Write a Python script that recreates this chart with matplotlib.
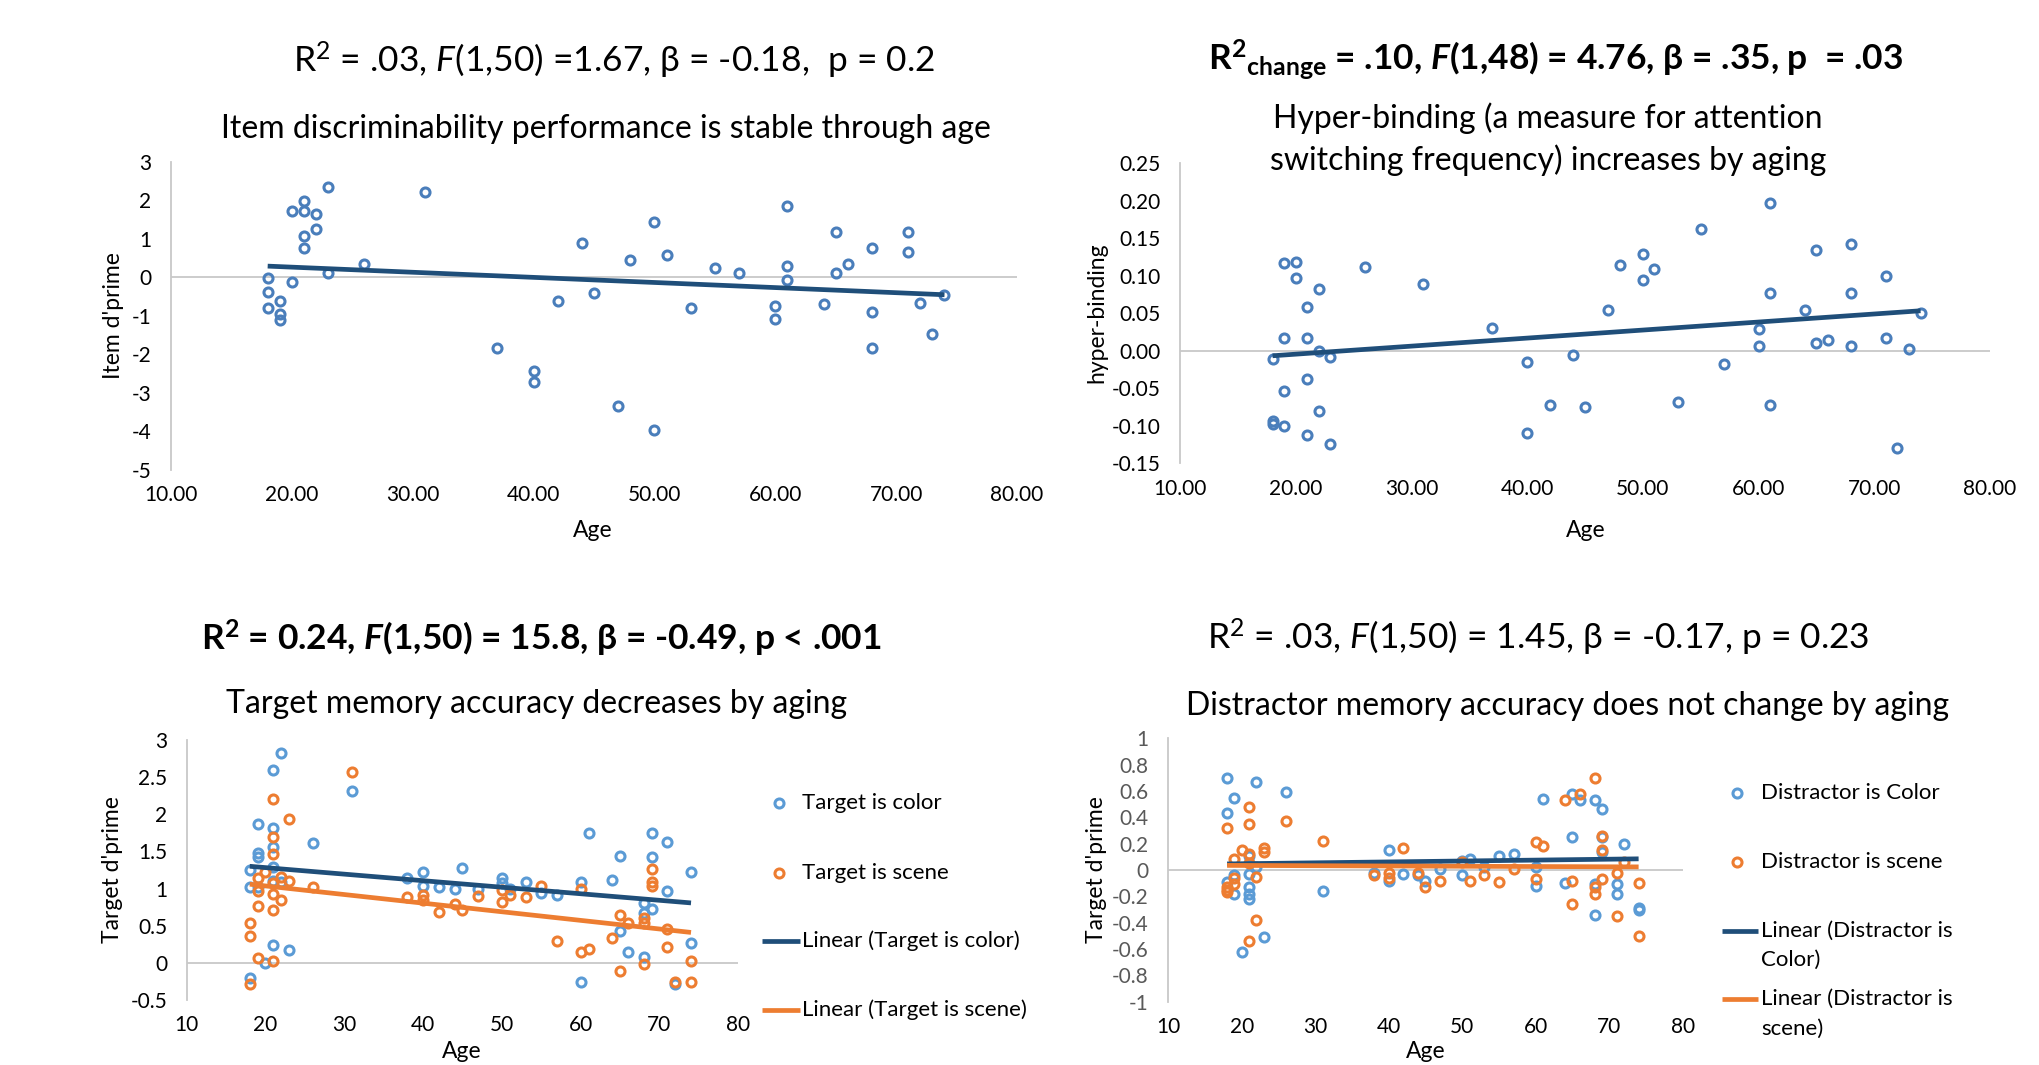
import numpy as np
import matplotlib
matplotlib.use("Agg")
import matplotlib.pyplot as plt
from matplotlib.lines import Line2D
from matplotlib.ticker import FormatStrFormatter

plt.rcParams['font.family'] = ['Lato', 'DejaVu Sans']
plt.rcParams['mathtext.fontset'] = 'custom'
plt.rcParams['mathtext.rm'] = 'Lato'
plt.rcParams['mathtext.it'] = 'Lato:italic'
plt.rcParams['mathtext.bf'] = 'Lato:bold'
plt.rcParams['mathtext.bfit'] = 'Lato:bold:italic'
plt.rcParams['axes.unicode_minus'] = False

# panel 1: item d'prime
age_item = [18, 18, 18, 19, 19, 19, 20, 20, 21, 21, 21, 21, 22, 22, 23, 23, 26, 31, 37,
            40, 40, 42, 44, 45, 47, 48, 50, 50, 51, 53, 55, 57, 60, 60, 61, 61, 61, 64,
            65, 65, 66, 68, 68, 68, 71, 71, 72, 73, 74]
item_dprime = [-0.02, -0.38, -0.79, -0.62, -0.96, -1.11, 1.71, -0.11, 1.98, 1.71, 1.07, 0.75,
               1.63, 1.26, 2.35, 0.11, 0.35, 2.22, -1.84, -2.43, -2.71, -0.62, 0.90, -0.42,
               -3.34, 0.44, 1.44, -3.97, 0.57, -0.79, 0.25, 0.11, -0.75, -1.07, 1.84, 0.29,
               -0.06, -0.70, 1.17, 0.11, 0.34, 0.75, -0.89, -1.84, 1.17, 0.66, -0.66, -1.48,
               -0.46]

# panel 2: hyper-binding
age_hb = [18, 18, 18, 19, 19, 19, 19, 20, 20, 21, 21, 21, 21, 22, 22, 22, 23, 23, 26, 31,
          37, 40, 40, 42, 44, 45, 47, 48, 50, 50, 51, 53, 55, 57, 60, 60, 61, 61, 61, 64,
          65, 65, 66, 68, 68, 68, 71, 71, 72, 73, 74]
hyper_binding = [-0.011, -0.093, -0.097, 0.117, 0.017, -0.053, -0.100, 0.119, 0.097, 0.059,
                 0.017, -0.037, -0.112, 0.082, 0.0, -0.080, -0.008, -0.124, 0.112, 0.089,
                 0.030, -0.015, -0.109, -0.072, -0.005, -0.075, 0.055, 0.115, 0.129, 0.095,
                 0.109, -0.068, 0.162, -0.018, 0.029, 0.007, 0.197, 0.077, -0.072, 0.055,
                 0.134, 0.010, 0.015, 0.142, 0.077, 0.007, 0.100, 0.017, -0.130, 0.003, 0.051]

# panel 3: target d'prime
age_tc = [18, 18, 18, 19, 19, 19, 19, 20, 21, 21, 21, 21, 21, 21, 22, 22, 23, 26, 31, 38,
          40, 40, 42, 44, 45, 47, 50, 50, 51, 53, 55, 57, 60, 60, 61, 64, 65, 65, 66, 68,
          68, 68, 69, 69, 69, 71, 71, 72, 74, 74]
target_color = [1.25, 1.02, -0.20, 1.87, 1.48, 1.43, 1.02, 0.0, 2.59, 1.82, 1.56, 1.29, 1.10,
                0.24, 2.83, 1.09, 0.17, 1.61, 2.31, 1.14, 1.22, 1.04, 1.02, 0.99, 1.28, 1.00,
                1.14, 1.07, 1.00, 1.09, 0.94, 0.92, 1.09, -0.26, 1.75, 1.12, 1.44, 0.43, 0.15,
                0.80, 0.67, 0.08, 1.75, 1.43, 0.73, 1.63, 0.97, -0.28, 1.22, 0.27]
age_ts = [18, 18, 18, 19, 19, 19, 19, 20, 21, 21, 21, 21, 21, 21, 21, 22, 22, 23, 23, 26,
          31, 38, 40, 40, 42, 44, 45, 47, 50, 50, 51, 53, 55, 57, 60, 60, 61, 64, 65, 65,
          66, 68, 68, 68, 69, 69, 69, 71, 71, 72, 74, 74]
target_scene = [0.54, 0.36, -0.28, 1.14, 0.97, 0.76, 0.07, 1.22, 2.20, 1.70, 1.47, 1.07, 0.93,
                0.71, 0.03, 1.15, 0.85, 1.93, 1.10, 1.02, 2.57, 0.88, 0.92, 0.84, 0.68, 0.79,
                0.71, 0.90, 0.98, 0.82, 0.92, 0.88, 1.04, 0.29, 1.00, 0.15, 0.19, 0.34, 0.64,
                -0.11, 0.53, 0.61, 0.53, -0.02, 1.26, 1.09, 1.04, 0.45, 0.22, -0.26, 0.03, -0.26]

# panel 4: distractor d'prime
age_dc = [18, 18, 18, 19, 19, 19, 20, 21, 21, 21, 21, 21, 22, 22, 23, 26, 31, 38, 40, 40,
          42, 44, 45, 47, 50, 50, 51, 53, 55, 57, 60, 60, 61, 64, 65, 65, 66, 68, 68, 68,
          69, 69, 69, 71, 71, 72, 74, 74]
distr_color = [0.70, 0.43, -0.09, 0.55, -0.04, -0.18, -0.62, 0.11, -0.03, -0.13, -0.18, -0.22,
               0.67, 0.02, -0.51, 0.59, -0.16, -0.02, 0.15, -0.08, -0.03, -0.04, -0.08, 0.01,
               0.07, -0.04, 0.08, 0.02, 0.11, 0.12, 0.02, -0.12, 0.54, -0.10, 0.58, 0.25, 0.53,
               0.53, -0.11, -0.34, 0.46, 0.25, 0.14, -0.11, -0.18, 0.20, -0.29, -0.30]
age_ds = [18, 18, 18, 18, 19, 19, 19, 20, 21, 21, 21, 21, 21, 22, 22, 23, 23, 26, 31, 38,
          40, 40, 42, 44, 45, 47, 50, 51, 53, 55, 57, 60, 60, 61, 64, 65, 65, 66, 68, 68,
          68, 69, 69, 69, 71, 71, 72, 74, 74]
distr_scene = [0.32, -0.13, -0.15, -0.17, 0.08, -0.06, -0.11, 0.15, 0.48, 0.35, 0.12, 0.05,
               -0.54, -0.05, -0.38, 0.17, 0.14, 0.37, 0.22, -0.04, -0.02, -0.06, 0.17, -0.02,
               -0.13, -0.08, 0.06, -0.08, -0.04, -0.09, 0.01, 0.21, -0.07, 0.18, 0.53, -0.08,
               -0.26, 0.58, 0.70, -0.13, -0.18, 0.26, 0.15, -0.07, -0.02, -0.35, 0.06, -0.10,
               -0.50]

ticks_age_top = [10, 20, 30, 40, 50, 60, 70, 80]
ticks_item = [-5, -4, -3, -2, -1, 0, 1, 2, 3]
ticks_hb = [-0.15, -0.10, -0.05, 0.0, 0.05, 0.10, 0.15, 0.20, 0.25]
ticks_target = [-0.5, 0, 0.5, 1, 1.5, 2, 2.5, 3]
ticks_distr = [-1, -0.8, -0.6, -0.4, -0.2, 0, 0.2, 0.4, 0.6, 0.8, 1]

BLUE_TOP = '#4A7EBB'
BLUE = '#5B9BD5'
ORANGE = '#ED7D31'
DARK = '#1F4E79'
GRID = '#C8C8C8'

W, H = 2040, 1065


def box(l, t, r, b):
    return [l / W, 1 - b / H, (r - l) / W, (b - t) / H]


def ftext(x, y, s, **kw):
    fig.text(x / W, 1 - y / H, s, ha=kw.pop('ha', 'center'), va=kw.pop('va', 'center'), **kw)


def style(ax, ylim, xticks, yticks, xfmt, yfmt, ycolor='black'):
    ax.set_xlim(10, 80)
    ax.set_ylim(*ylim)
    ax.set_xticks(xticks)
    ax.set_yticks(yticks)
    ax.xaxis.set_major_formatter(FormatStrFormatter(xfmt))
    ax.yaxis.set_major_formatter(FormatStrFormatter(yfmt))
    for s in ['top', 'right', 'bottom']:
        ax.spines[s].set_visible(False)
    ax.spines['left'].set_color(GRID)
    ax.spines['left'].set_linewidth(1.3)
    ax.axhline(0, color=GRID, lw=1.3, zorder=1)
    ax.tick_params(length=0, labelsize=15)
    ax.tick_params(axis='x', pad=11)
    ax.tick_params(axis='y', pad=14, labelcolor=ycolor)


def scatter_fit(ax, x, y, mcolor, lcolor):
    ax.plot(x, y, 'o', ms=6.5, mfc='none', mec=mcolor, mew=2.2, ls='none', zorder=3)
    c = np.polyfit(x, y, 1)
    xs = np.array([min(x), max(x)])
    ax.plot(xs, np.polyval(c, xs), color=lcolor, lw=3.4, solid_capstyle='butt', zorder=4)


fig = plt.figure(figsize=(20.4, 10.65), dpi=100)

# top-left
ax1 = fig.add_axes(box(171, 161.7, 1017, 470))
style(ax1, (-5, 3), ticks_age_top, ticks_item, '%.2f', '%d')
scatter_fit(ax1, age_item, item_dprime, BLUE_TOP, DARK)

# top-right
ax2 = fig.add_axes(box(1180, 163.3, 1990, 463.3))
style(ax2, (-0.15, 0.25), ticks_age_top, ticks_hb, '%.2f', '%.2f')
scatter_fit(ax2, age_hb, hyper_binding, BLUE_TOP, DARK)

# bottom-left
ax3 = fig.add_axes(box(186.7, 740, 738.3, 1000))
style(ax3, (-0.5, 3), ticks_age_top, ticks_target, '%g', '%g')
scatter_fit(ax3, age_tc, target_color, BLUE, DARK)
scatter_fit(ax3, age_ts, target_scene, ORANGE, ORANGE)

# bottom-right
ax4 = fig.add_axes(box(1168.3, 738.3, 1682.7, 1001.7))
style(ax4, (-1, 1), ticks_age_top, ticks_distr, '%g', '%g', ycolor='#595959')
scatter_fit(ax4, age_dc, distr_color, BLUE, DARK)
scatter_fit(ax4, age_ds, distr_scene, ORANGE, ORANGE)

# titles
TS, SS = 25.5, 23
ftext(614, 60, r"R$^2$ = .03, $\mathit{F}$(1,50) =1.67, β = -0.18,  p = 0.2", fontsize=TS)
ftext(606, 129, "Item discriminability performance is stable through age", fontsize=SS)
ftext(1556, 60, r"R$^{\mathbf{2}}$$_{\mathbf{change}}$ = .10, $\mathbfit{F}$(1,48) = 4.76, β = .35, p  = .03",
      fontsize=TS, fontweight='bold')
ftext(1548, 118, "Hyper-binding (a measure for attention", fontsize=SS)
ftext(1548, 160, "switching frequency) increases by aging", fontsize=SS)
ftext(541, 638, r"R$^{\mathbf{2}}$ = 0.24, $\mathbfit{F}$(1,50) = 15.8, β = -0.49, p < .001",
      fontsize=TS, fontweight='bold')
ftext(537, 704, "Target memory accuracy decreases by aging", fontsize=SS)
ftext(1538, 637, r"R$^2$ = .03, $\mathit{F}$(1,50) = 1.45, β = -0.17, p = 0.23", fontsize=TS)
ftext(1568, 706, "Distractor memory accuracy does not change by aging", fontsize=SS)

# axis labels
LS = 16.5
ftext(114, 316, "Item d'prime", fontsize=LS, rotation=90)
ftext(1097, 313, "hyper-binding", fontsize=LS, rotation=90)
ftext(113, 870, "Target d'prime", fontsize=LS, rotation=90)
ftext(1097, 870, "Target d'prime", fontsize=LS, rotation=90)
ftext(593, 530, "Age", fontsize=LS)
ftext(1586, 530, "Age", fontsize=LS)
ftext(462, 1051, "Age", fontsize=LS)
ftext(1426, 1051, "Age", fontsize=LS)


# legends drawn at Excel's positions
def legend_marker(x, y, color):
    fig.add_artist(Line2D([x / W], [1 - y / H], marker='o', ms=6.5, mfc='none', mec=color,
                          mew=2.2, ls='none'))


def legend_line(x0, x1, y, color):
    fig.add_artist(Line2D([x0 / W, x1 / W], [1 - y / H] * 2, color=color, lw=3.4,
                          solid_capstyle='butt'))


GS = 16
legend_marker(779, 803, BLUE)
ftext(802, 803, "Target is color", fontsize=GS, ha='left')
legend_marker(779, 873, ORANGE)
ftext(802, 873, "Target is scene", fontsize=GS, ha='left')
legend_line(762, 800, 941, DARK)
ftext(802, 941, "Linear (Target is color)", fontsize=GS, ha='left')
legend_line(762, 800, 1010, ORANGE)
ftext(802, 1010, "Linear (Target is scene)", fontsize=GS, ha='left')

legend_marker(1737, 793, BLUE)
ftext(1761, 793, "Distractor is Color", fontsize=GS, ha='left')
legend_marker(1737, 862, ORANGE)
ftext(1761, 862, "Distractor is scene", fontsize=GS, ha='left')
legend_line(1722, 1758, 931, DARK)
ftext(1761, 931, "Linear (Distractor is", fontsize=GS, ha='left')
ftext(1761, 960, "Color)", fontsize=GS, ha='left')
legend_line(1722, 1758, 999, ORANGE)
ftext(1761, 999, "Linear (Distractor is", fontsize=GS, ha='left')
ftext(1761, 1029, "scene)", fontsize=GS, ha='left')

fig.savefig("out.png", dpi=100)
